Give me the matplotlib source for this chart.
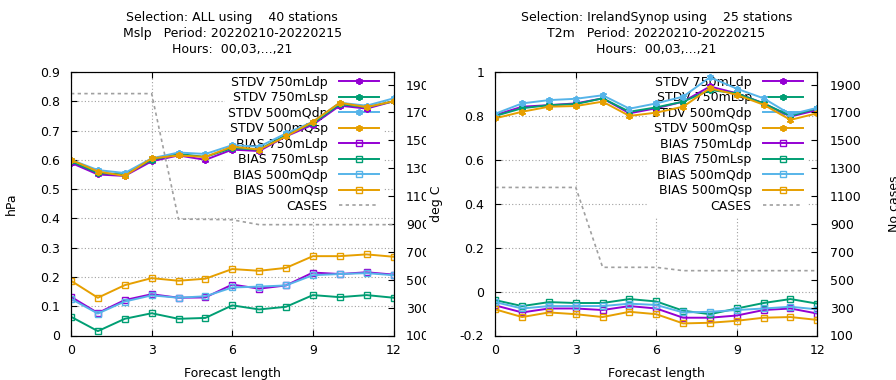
import numpy as np
import matplotlib
matplotlib.use("Agg")
import matplotlib.pyplot as plt
from matplotlib.patches import Rectangle

plt.rcParams['font.family'] = ['DejaVu Sans']
plt.rcParams['font.size'] = 9

leadtimes = list(range(13))

# left panel: Mslp, hPa
mslp_stdv_750mLdp = [0.590, 0.550, 0.545, 0.595, 0.615, 0.600, 0.635, 0.630, 0.680, 0.720, 0.785, 0.775, 0.800]
mslp_stdv_750mLsp = [0.595, 0.555, 0.550, 0.600, 0.620, 0.610, 0.640, 0.635, 0.685, 0.725, 0.790, 0.780, 0.800]
mslp_stdv_500mQdp = [0.600, 0.565, 0.555, 0.605, 0.625, 0.620, 0.650, 0.645, 0.690, 0.730, 0.795, 0.785, 0.810]
mslp_stdv_500mQsp = [0.600, 0.560, 0.545, 0.605, 0.615, 0.610, 0.645, 0.635, 0.680, 0.730, 0.795, 0.780, 0.800]
mslp_bias_750mLdp = [0.132, 0.077, 0.121, 0.141, 0.129, 0.130, 0.174, 0.160, 0.171, 0.215, 0.210, 0.216, 0.208]
mslp_bias_750mLsp = [0.064, 0.015, 0.057, 0.076, 0.057, 0.060, 0.103, 0.089, 0.098, 0.138, 0.131, 0.138, 0.129]
mslp_bias_500mQdp = [0.125, 0.075, 0.116, 0.137, 0.129, 0.134, 0.164, 0.167, 0.171, 0.206, 0.210, 0.213, 0.206]
mslp_bias_500mQsp = [0.187, 0.129, 0.172, 0.196, 0.187, 0.194, 0.227, 0.221, 0.231, 0.271, 0.271, 0.277, 0.269]
mslp_cases = [1835, 1835, 1835, 1835, 935, 933, 930, 895, 895, 895, 895, 895, 895]

# right panel: T2m, deg C
t2m_stdv_750mLdp = [0.804, 0.842, 0.849, 0.857, 0.880, 0.812, 0.835, 0.865, 0.934, 0.903, 0.857, 0.797, 0.827]
t2m_stdv_750mLsp = [0.800, 0.835, 0.849, 0.854, 0.880, 0.819, 0.839, 0.865, 0.918, 0.903, 0.857, 0.800, 0.835]
t2m_stdv_500mQdp = [0.810, 0.857, 0.872, 0.878, 0.894, 0.833, 0.857, 0.888, 0.976, 0.924, 0.880, 0.807, 0.837]
t2m_stdv_500mQsp = [0.789, 0.819, 0.842, 0.845, 0.865, 0.800, 0.815, 0.842, 0.926, 0.896, 0.851, 0.782, 0.812]
t2m_bias_750mLdp = [-0.063, -0.095, -0.077, -0.077, -0.084, -0.066, -0.077, -0.119, -0.119, -0.109, -0.084, -0.077, -0.100]
t2m_bias_750mLsp = [-0.039, -0.066, -0.048, -0.052, -0.052, -0.034, -0.045, -0.087, -0.103, -0.077, -0.052, -0.034, -0.055]
t2m_bias_500mQdp = [-0.048, -0.077, -0.066, -0.066, -0.066, -0.055, -0.061, -0.095, -0.092, -0.084, -0.077, -0.069, -0.081]
t2m_bias_500mQsp = [-0.081, -0.116, -0.095, -0.103, -0.116, -0.092, -0.103, -0.145, -0.142, -0.133, -0.119, -0.116, -0.129]
t2m_cases = [1162, 1162, 1162, 1162, 589, 589, 589, 565, 565, 565, 565, 565, 565]

exp_names = ["750mLdp", "750mLsp", "500mQdp", "500mQsp"]
exp_colors = ["#9400d3", "#009e73", "#56b4e9", "#e69f00"]

titles = ["Selection: ALL using    40 stations\nMslp   Period: 20220210-20220215\nHours:  00,03,...,21",
          "Selection: IrelandSynop using    25 stations\nT2m   Period: 20220210-20220215\nHours:  00,03,...,21"]


def panel(fig, rect, stdv, bias, cases, ylim, yticks, ylabel, y2label, title, labelpad, zo):
    ax = fig.add_axes(rect)
    ax.set_zorder(zo)
    ax.set_axisbelow(True)
    ax.grid(True, color="#a0a0a0", linestyle=(0, (1, 2)), linewidth=0.8)
    handles = []
    for name, col, ys in zip(exp_names, exp_colors, stdv):
        h, = ax.plot(leadtimes, ys, color=col, lw=1.4, marker=(6, 2, 0), ms=5, mew=1.3,
                     label="STDV " + name, zorder=3)
        handles.append(h)
    for name, col, ys in zip(exp_names, exp_colors, bias):
        h, = ax.plot(leadtimes, ys, color=col, lw=1.4, marker="s", ms=4.5, mew=1.0,
                     mfc="none", label="BIAS " + name, zorder=3)
        handles.append(h)
    ax.set_xlim(0, 12)
    ax.set_xticks([0, 3, 6, 9, 12])
    ax.set_ylim(*ylim)
    ax.set_yticks(yticks)
    ax.yaxis.set_major_formatter(matplotlib.ticker.FuncFormatter(lambda v, p: "%g" % round(v, 2)))
    ax.tick_params(direction="in", length=4, top=True, right=True, pad=8)
    ax.tick_params(axis="x", pad=6)
    ax.set_xlabel("Forecast length", labelpad=7)
    ax.set_ylabel(ylabel, labelpad=labelpad)
    ax.set_title(title, fontsize=9, linespacing=1.3, pad=14)

    ax2 = ax.twinx()
    ax2.set_zorder(zo)
    h, = ax2.plot(leadtimes, cases, color="#a0a0a0", lw=1.2, linestyle=(0, (2, 2)), label="CASES")
    handles.append(h)
    ax2.set_ylim(100, 1990)
    ax2.set_yticks(range(100, 2000, 200))
    ax2.tick_params(direction="in", length=4, pad=9)
    if y2label:
        ax2.set_ylabel(y2label, labelpad=19)

    leg = ax.legend(handles=handles, loc="upper right", bbox_to_anchor=(0.967, 1.0),
                    markerfirst=False, handlelength=3.2, handletextpad=0.9,
                    labelspacing=0.2, borderpad=0.3, borderaxespad=0, frameon=True,
                    fancybox=False, facecolor="white", edgecolor="none", framealpha=1)
    leg.set_zorder(2)
    return ax, ax2


fig = plt.figure(figsize=(8.96, 3.80), dpi=100)

panel(fig, [71 / 896, 44.5 / 380, 322.5 / 896, 263.5 / 380],
      [mslp_stdv_750mLdp, mslp_stdv_750mLsp, mslp_stdv_500mQdp, mslp_stdv_500mQsp],
      [mslp_bias_750mLdp, mslp_bias_750mLsp, mslp_bias_500mQdp, mslp_bias_500mQsp],
      mslp_cases, (0, 0.9), np.arange(0, 0.95, 0.1), "hPa", None, titles[0], 16, 0)

# the right panel's area hides the tail of the left panel's y2 labels
fig.add_artist(Rectangle((426 / 896, 0), 69 / 896, 1, transform=fig.transFigure,
                         facecolor="white", edgecolor="none", zorder=0.5))

panel(fig, [495.3 / 896, 44.5 / 380, 322 / 896, 263.5 / 380],
      [t2m_stdv_750mLdp, t2m_stdv_750mLsp, t2m_stdv_500mQdp, t2m_stdv_500mQsp],
      [t2m_bias_750mLdp, t2m_bias_750mLsp, t2m_bias_500mQdp, t2m_bias_500mQsp],
      t2m_cases, (-0.2, 1.0), np.arange(-0.2, 1.05, 0.2), "deg C", "No cases", titles[1], 12, 1)

fig.savefig("out.png", dpi=100)
